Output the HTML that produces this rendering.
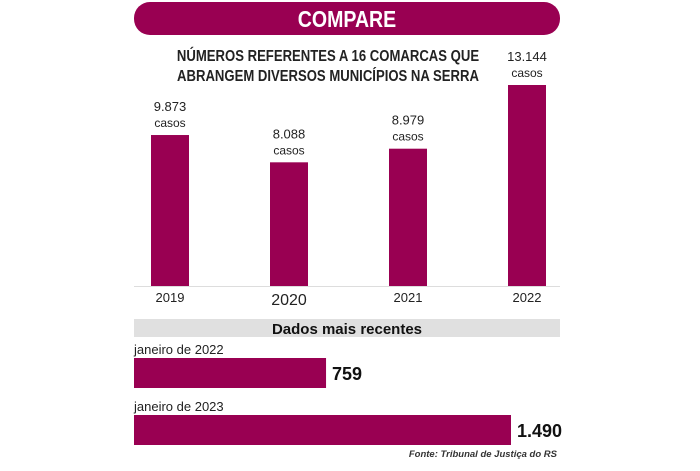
<!DOCTYPE html>
<html><head><meta charset="utf-8"><style>
body{margin:0;background:#fff;}
svg text{font-family:"Liberation Sans",sans-serif;}
</style></head><body>
<svg width="700" height="466" viewBox="0 0 700 466">
<rect x="134" y="2" width="426" height="33" rx="16" fill="#990052"/>
<text x="347" y="27" text-anchor="middle" fill="#fff" font-size="23" font-weight="bold" transform="translate(347 0) scale(0.85 1) translate(-347 0)">COMPARE</text>
<text x="328" y="61" text-anchor="middle" font-size="16" font-weight="bold" fill="#222" transform="translate(328 0) scale(0.82 1) translate(-328 0)">NÚMEROS REFERENTES A 16 COMARCAS QUE</text>
<text x="328" y="81" text-anchor="middle" font-size="16" font-weight="bold" fill="#222" transform="translate(328 0) scale(0.82 1) translate(-328 0)">ABRANGEM DIVERSOS MUNICÍPIOS NA SERRA</text>
<line x1="134" y1="286.5" x2="560" y2="286.5" stroke="#ddd"/>
<g id="vbars"></g>
<rect x="134" y="319" width="426" height="18" fill="#e0e0e0"/>
<text x="347" y="334" text-anchor="middle" font-size="15" font-weight="bold" fill="#111">Dados mais recentes</text>
<g id="hbars"></g>
<text x="557" y="457" text-anchor="end" font-size="9.5" font-style="italic" font-weight="bold" fill="#333">Fonte: Tribunal de Justiça do RS</text>
</svg>
<script>
const years=["2019","2020","2021","2022"];
const cases=[9873,8088,8979,13144];
const caseLabels=["9.873","8.088","8.979","13.144"];
const months=["janeiro de 2022","janeiro de 2023"];
const monthValues=[759,1490];
const monthLabels=["759","1.490"];
const NS="http://www.w3.org/2000/svg";
function mk(tag,attrs,parent,txt){const e=document.createElementNS(NS,tag);for(const k in attrs)e.setAttribute(k,attrs[k]);if(txt!==undefined)e.textContent=txt;parent.appendChild(e);return e;}
const base=286, yScale=v=>v*201/13144;
const xCenter=i=>170+i*119;
const vg=document.getElementById('vbars');
years.forEach((y,i)=>{
  const h=yScale(cases[i]),cx=xCenter(i);
  const r=mk('rect',{x:cx-19,y:base-h,width:38,height:h,fill:'#990052'},vg);
  
  
  const t1=mk('text',{x:cx,y:base-h-24,'text-anchor':'middle','font-size':13,fill:'#222'},vg,caseLabels[i]);
  
  
  const t2=mk('text',{x:cx,y:base-h-8,'text-anchor':'middle','font-size':12,fill:'#222'},vg,'casos');
  
  
  const t3=mk('text',{x:cx,y:i==1?305:302,'text-anchor':'middle','font-size':i==1?16:13,fill:'#222'},vg,y);
  
  
});
const hg=document.getElementById('hbars');
const xScale=v=>v*377/1490;
months.forEach((m,i)=>{
  const top=358+i*57,w=xScale(monthValues[i]);
  const l=mk('text',{x:134,y:top-4,'font-size':13,fill:'#222'},hg,m);
  
  
  const r=mk('rect',{x:134,y:top,width:w,height:30,fill:'#990052'},hg);
  
  
  const v=mk('text',{x:134+w+6,y:top+22,'font-size':18,'font-weight':'bold',fill:'#111'},hg,monthLabels[i]);
  
  
});
</script>
</body></html>
